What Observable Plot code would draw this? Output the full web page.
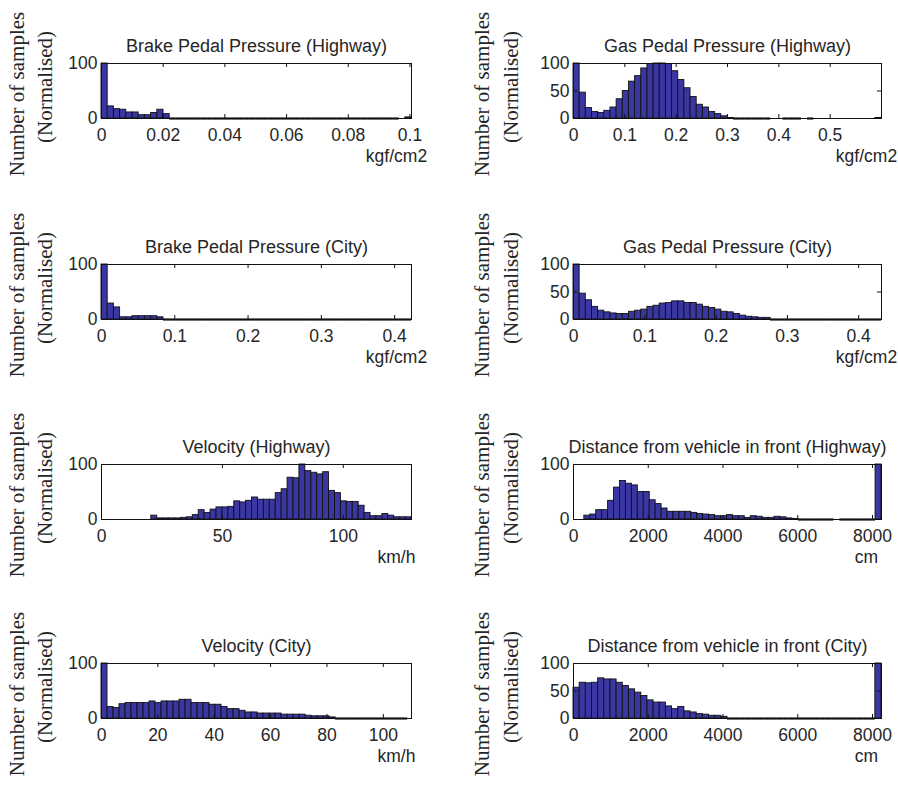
<!DOCTYPE html>
<html><head><meta charset="utf-8">
<script src="https://cdn.jsdelivr.net/npm/d3@7"></script>
<script src="https://cdn.jsdelivr.net/npm/@observablehq/plot@0.6"></script>
<style>
body{margin:0;background:#fff;}
#chart{position:relative;width:898px;height:785px;overflow:hidden;background:#fff;}
#chart svg{position:absolute;overflow:visible;}
</style></head><body><div id="chart"></div>
<script>
// ---- data ----
const titles = [
  "Brake Pedal Pressure (Highway)", "Gas Pedal Pressure (Highway)",
  "Brake Pedal Pressure (City)", "Gas Pedal Pressure (City)",
  "Velocity (Highway)", "Distance from vehicle in front (Highway)",
  "Velocity (City)", "Distance from vehicle in front (City)"
];
const units = ["kgf/cm2", "kgf/cm2", "kgf/cm2", "kgf/cm2", "km/h", "cm", "km/h", "cm"];
const yLabel1 = "Number of samples";
const yLabel2 = "(Normalised)";

// histogram heights (normalised, 0-100); null = no bar drawn
const brakeHighway = [100,22,17,16,11,11,6,6,10,16,8,
  0,0,0,0,0,0,0,0,0,0,0,0,0,0,0,0,0,0,0,0,0,0,0,0,0,0,0,0,0,0,0,0,0,0,0,0,0,null,2];
const gasHighway = [100,47,19,12,10,14,20,35,50,67,77,91,99,100,100,99,86,70,55,39,25,20,12,8,4,
  1,0,0,0,0,0,0,null,null,0,0,0,null,0,null,null,null,null,null,null,null,null,null,null,1];
const brakeCity = [100,29,22,4,4,6,6,6,6,4,
  0,0,0,0,0,0,0,0,0,0,0,0,0,0,0,0,0,0,0,0,0,0,0,0,0,0,0,0,0,0,0,0,0,0,0,0,0,0,0,0];
const gasCity = [100,47,35,23,16,13,11,10,10,14,16,18,23,25,29,30,33,33,30,30,27,23,21,18,14,13,10,7,5,4,3,3,
  0,0,0,0,0,0,0,0,0,0,0,0,0,0,0,0,0,0];
const velocityHighway = [7,2,2,2,2,3,4,8,17,12,18,22,22,23,33,31,34,40,36,36,36,48,55,76,75,100,88,85,82,86,
  52,48,33,32,32,25,12,6,6,10,7,4,4,4];
const distanceHighway = [7,9,17,17,34,58,70,65,62,50,50,35,28,20,14,14,14,14,12,10,9,8,6,6,8,6,6,3,6,5,3,3,5,4,2,1,
  0,0,0,0,0,0,null,0,0,0,0,0,0,100];
const velocityCity = [100,21,19,26,28,28,28,28,31,28,31,31,31,34,34,28,28,28,25,25,21,17,17,14,11,11,9,9,9,9,7,7,7,7,5,4,4,4,2,
  0,0,0,0,0,0,0,0,0,0,0,0];
const distanceCity = [56,65,64,65,73,71,71,65,59,53,47,41,33,29,29,22,17,21,13,11,8,7,5,5,3,
  0,0,0,0,0,0,0,0,0,0,0,0,0,0,0,0,0,0,0,0,0,0,0,0,100];

const seriesValues = [brakeHighway, gasHighway, brakeCity, gasCity, velocityHighway, distanceHighway, velocityCity, distanceCity];
const binStarts = [0, 0, 0, 0, 20.6, 290, 0, 0];
const binWidths = [0.00201, 0.012, 0.00846, 0.00864, 2.45, 159, 2.13, 164.8];
const xMaxes = [0.1005, 0.6, 0.423, 0.432, 128.2, 8240, 110, 8240];
const xTickValues = [
  [0, 0.02, 0.04, 0.06, 0.08, 0.1],
  [0, 0.1, 0.2, 0.3, 0.4, 0.5],
  [0, 0.1, 0.2, 0.3, 0.4],
  [0, 0.1, 0.2, 0.3, 0.4],
  [0, 50, 100],
  [0, 2000, 4000, 6000, 8000],
  [0, 20, 40, 60, 80, 100],
  [0, 2000, 4000, 6000, 8000]
];
const yTickValues = [[0,100],[0,50,100],[0,100],[0,50,100],[0,100],[0,100],[0,100],[0,50,100]];

// ---- layout ----
const colLeft = [0, 449], mLeft = [101, 124], mRight = [38, 17];
const rowTop = [0, 201, 401, 600];
const W = 449, H = 180, MT = 63, MB = 62;
const barFill = "#3a36a2", edge = "#111";
const sans = "'Liberation Sans', Arial, sans-serif";
const serif = "'Liberation Serif', 'Times New Roman', serif";

const chart = document.getElementById("chart");
seriesValues.forEach((vals, i) => {
  const col = i % 2, row = Math.floor(i / 2);
  const bins = vals.map((v, k) => ({x1: binStarts[i] + k * binWidths[i], x2: Math.min(xMaxes[i], binStarts[i] + (k + 1) * binWidths[i]), v}));
  const frameW = W - mLeft[col] - mRight[col];
  const frameH = H - MT - MB;
  const yDx1 = col === 0 ? -84 : -91;
  const yDx2 = col === 0 ? -56 : -62;
  const svg = Plot.plot({
    width: W, height: H,
    marginLeft: mLeft[col], marginRight: mRight[col], marginTop: MT, marginBottom: MB,
    x: {domain: [0, xMaxes[i]]},
    y: {domain: [0, 100]},
    style: {fontFamily: sans, fontSize: "17.5px", color: "#262626", background: "transparent", overflow: "visible"},
    marks: [
      Plot.rectY(bins.filter(d => d.v != null && d.v > 0), {x1: "x1", x2: "x2", y: "v", fill: barFill, stroke: edge, strokeWidth: 0.9}),
      Plot.ruleY(bins.filter(d => d.v === 0), {y: () => 0, x1: "x1", x2: "x2", stroke: edge, strokeWidth: 2.2}),
      Plot.ruleX(xTickValues[i], {x: d => d, insetTop: frameH - 4, stroke: edge}),
      Plot.ruleX(xTickValues[i], {x: d => d, insetBottom: frameH - 4, stroke: edge}),
      Plot.ruleY(yTickValues[i], {y: d => d, insetRight: frameW - 4, stroke: edge}),
      Plot.ruleY(yTickValues[i], {y: d => d, insetLeft: frameW - 4, stroke: edge}),
      Plot.frame({stroke: edge}),
      Plot.axisX({ticks: xTickValues[i], tickSize: 0, tickPadding: 10, tickFormat: d => `${d}`, label: null}),
      Plot.axisY({ticks: yTickValues[i], tickSize: 0, tickPadding: 4, tickFormat: d => `${d}`, label: null}),
      Plot.text([titles[i]], {text: d => d, frameAnchor: "top", dy: -17, lineAnchor: "middle", fontSize: 18}),
      Plot.text([units[i]], {text: d => d, frameAnchor: "bottom-right", textAnchor: "middle", dx: -15, dy: 38, lineAnchor: "middle", fontSize: 17.5}),
      Plot.text([yLabel1], {text: d => d, frameAnchor: "left", textAnchor: "middle", rotate: -90, dx: yDx1, dy: 3, fontFamily: serif, fontSize: 21, lineAnchor: "middle"}),
      Plot.text([yLabel2], {text: d => d, frameAnchor: "left", textAnchor: "middle", rotate: -90, dx: yDx2, dy: -4, fontFamily: serif, fontSize: 21, lineAnchor: "middle", letterSpacing: "1.5px"})
    ]
  });
  svg.style.left = colLeft[col] + "px";
  svg.style.top = rowTop[row] + "px";
  chart.appendChild(svg);
});
</script>
</body></html>
